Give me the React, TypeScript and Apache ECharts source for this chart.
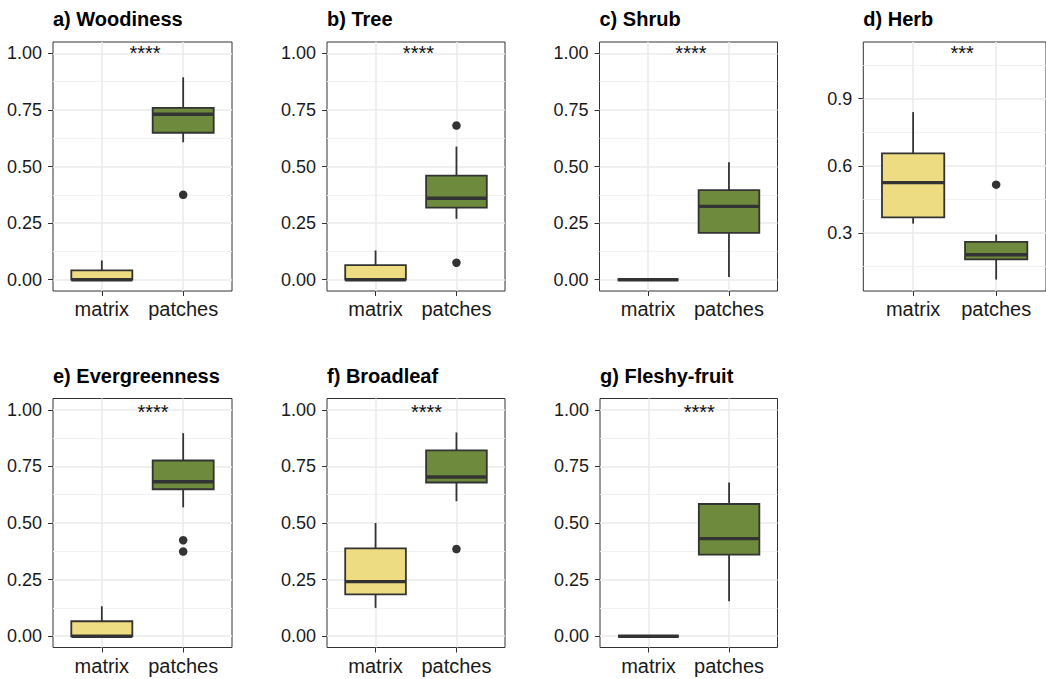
import React, { useEffect, useRef } from "react";
import * as echarts from "echarts";

// ---- data ----
const CATEGORIES = ["matrix", "patches"];
const TITLES = [
  "a) Woodiness",
  "b) Tree",
  "c) Shrub",
  "d) Herb",
  "e) Evergreenness",
  "f) Broadleaf",
  "g) Fleshy-fruit",
];
// box stats: [lower whisker, Q1, median, Q3, upper whisker]
const woodinessMatrix = [0, 0, 0, 0.041, 0.085];
const woodinessPatches = [0.607, 0.649, 0.731, 0.759, 0.894];
const woodinessOutliers = [0.375];

const treeMatrix = [0, 0, 0, 0.064, 0.129];
const treePatches = [0.269, 0.318, 0.36, 0.46, 0.588];
const treeOutliers = [0.681, 0.075];

const shrubMatrix = [0, 0, 0, 0, 0];
const shrubPatches = [0.012, 0.207, 0.324, 0.396, 0.519];
const shrubOutliers: number[] = [];

const herbMatrix = [0.342, 0.37, 0.525, 0.656, 0.84];
const herbPatches = [0.092, 0.182, 0.203, 0.26, 0.293];
const herbOutliers = [0.516];

const evergreenMatrix = [0, 0, 0, 0.066, 0.132];
const evergreenPatches = [0.569, 0.649, 0.682, 0.776, 0.897];
const evergreenOutliers = [0.424, 0.374];

const broadleafMatrix = [0.125, 0.185, 0.241, 0.388, 0.5];
const broadleafPatches = [0.596, 0.679, 0.703, 0.821, 0.9];
const broadleafOutliers = [0.385];

const fleshyMatrix = [0, 0, 0, 0, 0];
const fleshyPatches = [0.154, 0.36, 0.431, 0.584, 0.679];
const fleshyOutliers: number[] = [];

const SIGNIF = ["****", "****", "****", "***", "****", "****", "****"];
const SIGNIF_X = [0.53, 0.53, 0.53, 0.59, 0.63, 0.63, 0.63];
const SIGNIF_Y = [1.003, 1.003, 1.003, 1.106, 0.99, 0.99, 0.99];

const Y_TICKS = [0, 0.25, 0.5, 0.75, 1];
const Y_MINOR = [0.125, 0.375, 0.625, 0.875];
const HERB_TICKS = [0.3, 0.6, 0.9];
const HERB_MINOR = [0.15, 0.45, 0.75, 1.05];

const Y_RANGE = [-0.05, 1.05];
const HERB_RANGE = [0.041, 1.153];

const BOXES = [
  [woodinessMatrix, woodinessPatches],
  [treeMatrix, treePatches],
  [shrubMatrix, shrubPatches],
  [herbMatrix, herbPatches],
  [evergreenMatrix, evergreenPatches],
  [broadleafMatrix, broadleafPatches],
  [fleshyMatrix, fleshyPatches],
];
const OUTLIERS = [
  woodinessOutliers,
  treeOutliers,
  shrubOutliers,
  herbOutliers,
  evergreenOutliers,
  broadleafOutliers,
  fleshyOutliers,
];

// ---- layout / style ----
const FILLS = ["#EEDC82", "#6E8B3D"];
const DARK = "#333333";
const FONT = "Liberation Sans, Arial, sans-serif";
const GRIDS = [
  { left: 53, top: 42, width: 179, height: 249 },
  { left: 327, top: 42, width: 178, height: 249 },
  { left: 599.5, top: 42, width: 178, height: 249 },
  { left: 863.3, top: 42, width: 188.7, height: 249 },
  { left: 53, top: 398.5, width: 179, height: 249 },
  { left: 327, top: 398.5, width: 178, height: 249 },
  { left: 600, top: 398.5, width: 177.5, height: 249 },
];

function buildOption() {
  const grid: any[] = [];
  const xAxis: any[] = [];
  const yAxis: any[] = [];
  const series: any[] = [];
  const title: any[] = [];

  GRIDS.forEach((g, i) => {
    const isHerb = i === 3;
    const ticks = isHerb ? HERB_TICKS : Y_TICKS;
    const minor = isHerb ? HERB_MINOR : Y_MINOR;
    const range = isHerb ? HERB_RANGE : Y_RANGE;
    const dec = isHerb ? 1 : 2;

    grid.push({
      left: g.left,
      top: g.top,
      width: g.width,
      height: g.height,
      show: true,
      borderColor: DARK,
      borderWidth: 1,
      backgroundColor: "transparent",
    });

    title.push({
      text: TITLES[i],
      left: g.left,
      top: g.top - 33,
      padding: 0,
      textStyle: { fontSize: 20, fontWeight: "bold", color: "#000", fontFamily: FONT },
    });

    xAxis.push({
      gridIndex: i,
      type: "value",
      position: "bottom",
      min: -0.6,
      max: 1.6,
      axisLine: { show: false, onZero: false },
      axisTick: {
        show: true,
        length: 5,
        customValues: [0, 1],
        lineStyle: { color: DARK, width: 1 },
      },
      axisLabel: {
        customValues: [0, 1],
        formatter: (v: number) => CATEGORIES[Math.round(v)],
        fontSize: 20,
        color: "#1a1a1a",
        margin: 8,
        fontFamily: FONT,
      },
      splitLine: { show: true, lineStyle: { color: "#EBEBEB", width: 1.6 } },
    });

    const majorIdx = yAxis.length;
    yAxis.push({
      gridIndex: i,
      type: "value",
      position: "left",
      min: range[0],
      max: range[1],
      axisLine: { show: false, onZero: false },
      axisTick: {
        show: true,
        length: 5,
        customValues: ticks,
        lineStyle: { color: DARK, width: 1 },
      },
      axisLabel: {
        customValues: ticks,
        formatter: (v: number) => v.toFixed(dec),
        fontSize: 18,
        color: "#1a1a1a",
        margin: 11,
        fontFamily: FONT,
      },
      splitLine: { show: true, lineStyle: { color: "#EBEBEB", width: 1.6 } },
    });
    yAxis.push({
      gridIndex: i,
      type: "value",
      position: "left",
      min: range[0],
      max: range[1],
      axisLine: { show: false, onZero: false },
      axisTick: { show: false, customValues: minor },
      axisLabel: { show: false, customValues: minor },
      splitLine: { show: true, lineStyle: { color: "#F2F2F2", width: 1 } },
    });

    const boxData = BOXES[i].map((b, k) => [k, ...b]);
    series.push({
      type: "custom",
      xAxisIndex: i,
      yAxisIndex: majorIdx,
      data: boxData,
      z: 3,
      renderItem: (params: any, api: any) => {
        const x = api.value(0);
        const lo = api.coord([x, api.value(1)]);
        const q1 = api.coord([x, api.value(2)]);
        const med = api.coord([x, api.value(3)]);
        const q3 = api.coord([x, api.value(4)]);
        const hi = api.coord([x, api.value(5)]);
        const half = api.size([0.75, 0])[0] / 2;
        const cx = lo[0];
        const lineStyle = { stroke: DARK, lineWidth: 1.8 };
        return {
          type: "group",
          children: [
            { type: "line", shape: { x1: cx, y1: q3[1], x2: cx, y2: hi[1] }, style: lineStyle },
            { type: "line", shape: { x1: cx, y1: q1[1], x2: cx, y2: lo[1] }, style: lineStyle },
            {
              type: "rect",
              shape: { x: cx - half, y: q3[1], width: half * 2, height: q1[1] - q3[1] },
              style: { fill: FILLS[params.dataIndex], stroke: DARK, lineWidth: 1.8 },
            },
            {
              type: "line",
              shape: { x1: cx - half, y1: med[1], x2: cx + half, y2: med[1] },
              style: { stroke: DARK, lineWidth: 3.4 },
            },
          ],
        };
      },
    });

    series.push({
      type: "scatter",
      xAxisIndex: i,
      yAxisIndex: majorIdx,
      data: OUTLIERS[i].map((v) => [1, v]),
      symbol: "circle",
      symbolSize: 8.5,
      itemStyle: { color: DARK, opacity: 1 },
      z: 4,
    });

    series.push({
      type: "custom",
      xAxisIndex: i,
      yAxisIndex: majorIdx,
      data: [[SIGNIF_X[i], SIGNIF_Y[i]]],
      z: 5,
      renderItem: (params: any, api: any) => {
        const p = api.coord([api.value(0), api.value(1)]);
        return {
          type: "text",
          x: p[0],
          y: p[1],
          style: {
            text: SIGNIF[i],
            fill: "#111",
            fontSize: 20,
            fontFamily: FONT,
            align: "center",
            verticalAlign: "middle",
          },
        };
      },
    });
  });

  return {
    animation: false,
    backgroundColor: "#ffffff",
    textStyle: { fontFamily: FONT },
    title,
    grid,
    xAxis,
    yAxis,
    series,
  };
}

export default function App() {
  const ref = useRef<HTMLDivElement>(null);
  useEffect(() => {
    if (!ref.current) return;
    const chart = echarts.init(ref.current, undefined, { renderer: "svg" });
    chart.setOption(buildOption() as any);
    return () => chart.dispose();
  }, []);
  return (
    <div
      ref={ref}
      style={{ position: "absolute", left: 0, top: 0, width: 1046, height: 679, background: "#fff" }}
    />
  );
}
